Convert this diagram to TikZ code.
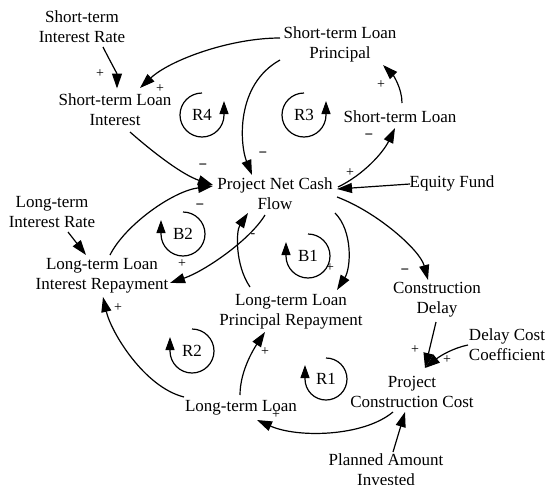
\documentclass[tikz,border=0pt]{standalone}
\usepackage{fontspec}
\setmainfont{Liberation Serif}
\usetikzlibrary{arrows.meta}
\begin{document}
\begin{tikzpicture}[x=1pt,y=-1pt,
  lbl/.style={font=\fontsize{17}{20}\selectfont, align=center, inner sep=0pt},
  pol/.style={font=\fontsize{14}{14}\selectfont, inner sep=0pt},
  neg/.style={font=\bfseries\fontsize{15}{15}\selectfont, inner sep=0pt},
  link/.style={line width=1.2pt, -{Triangle[length=15pt,width=10pt]}},
  loopar/.style={line width=1.2pt, -{Triangle[length=13pt,width=9pt]}},
]
\useasboundingbox (0,0) rectangle (547,485);
\fill[white] (0,0) rectangle (547,485);

% variables
\node[lbl] (stir)  at (82,27)    {Short-term\\Interest Rate};
\node[lbl] (stli)  at (115,109.5){Short-term Loan\\Interest};
\node[lbl] (stlp)  at (340,44.5) {Short-term Loan\\Principal};
\node[lbl] (stl)   at (400,117)  {Short-term Loan};
\node[lbl] (pncf)  at (275,193.5){Project Net Cash\\Flow};
\node[lbl] (ef)    at (452,183)  {Equity Fund};
\node[lbl] (ltir)  at (52,212)   {Long-term\\Interest Rate};
\node[lbl] (ltlir) at (102,276)  {Long-term Loan\\Interest Repayment};
\node[lbl] (ltlpr) at (291,311.5){Long-term Loan\\Principal Repayment};
\node[lbl] (cd)    at (437,300)  {Construction\\Delay};
\node[lbl] (dcc)   at (507,344.5){Delay Cost\\Coefficient};
\node[lbl] (pcc)   at (412,391.5){Project\\Construction Cost};
\node[lbl] (ltl)   at (241,408)  {Long-term Loan};
\node[lbl] (pai)   at (386,470)  {Planned Amount\\Invested};

% links
\draw[link] ([shift={(21,20)}]stir.center) .. controls +(6,12) and +(0,-15) .. ([shift={(2,-21)}]stli.center);
\draw[link] ([shift={(-60,-6.5)}]stlp.center) .. controls +(-50,0) and +(30,-28) .. ([shift={(25,-21.5)}]stli.center);
\draw[link] ([shift={(15,22.5)}]stli.center) .. controls +(25,22) and +(-30,-10) .. ([shift={(-62,-8.5)}]pncf.center);
\draw[link] ([shift={(-60,15.5)}]stlp.center) .. controls +(-45,25) and +(-12,-30) .. ([shift={(-23,-18.5)}]pncf.center);
\draw[link] ([shift={(2,-14)}]stl.center) .. controls +(0,-15) and +(10,10) .. ([shift={(43,20.5)}]stlp.center);
\draw[link] ([shift={(63,-6.5)}]pncf.center) .. controls +(25,-12) and +(-12,25) .. ([shift={(-5,11)}]stl.center);
\draw[link] ([shift={(-42,1)}]ef.center) -- ([shift={(62,-4.5)}]pncf.center);
\draw[link] ([shift={(16,20)}]ltir.center) -- ([shift={(-16,-21)}]ltlir.center);
\draw[link] ([shift={(8,-21)}]ltlir.center) .. controls +(15,-30) and +(-40,5) .. ([shift={(-62,-7.5)}]pncf.center);
\draw[link] ([shift={(-10,21.5)}]pncf.center) .. controls +(-15,25) and +(35,-12) .. ([shift={(68,7)}]ltlir.center);
\draw[link] ([shift={(-41,-24.5)}]ltlpr.center) .. controls +(-15,-22) and +(-12,18) .. ([shift={(-27,19.5)}]pncf.center);
\draw[link] ([shift={(60,19.5)}]pncf.center) .. controls +(18,18) and +(14,-22) .. ([shift={(46,-21.5)}]ltlpr.center);
\draw[link] ([shift={(62,3.5)}]pncf.center) .. controls +(40,15) and +(-8,-30) .. ([shift={(-9,-20)}]cd.center);
\draw[link] ([shift={(-1,22)}]cd.center) -- ([shift={(13,-23.5)}]pcc.center);
\draw[link] ([shift={(-39,0.5)}]dcc.center) .. controls +(-15,3) and +(15,-12) .. ([shift={(13,-23.5)}]pcc.center);
\draw[link] ([shift={(-19,20.5)}]pcc.center) .. controls +(-30,25) and +(40,18) .. ([shift={(16,12)}]ltl.center);
\draw[link] ([shift={(7,-18)}]pai.center) -- ([shift={(-7,20.5)}]pcc.center);
\draw[link] ([shift={(-1,-13)}]ltl.center) .. controls +(0,-25) and +(-10,15) .. ([shift={(-26,20.5)}]ltlpr.center);
\draw[link] ([shift={(-57,-11)}]ltl.center) .. controls +(-40,-10) and +(8,35) .. ([shift={(1,21)}]ltlir.center);

% polarities
\node[pol] (s1)  at (100,74)  {+};
\node[pol] (s2)  at (160,89)  {+};
\node[neg] (s3)  at (203,167) {−};
\node[neg] (s4)  at (263,155) {−};
\node[pol] (s5)  at (381,85)  {+};
\node[neg] (s6)  at (369,137) {−};
\node[pol] (s7)  at (350,173) {+};
\node[neg] (s8)  at (200,207) {−};
\node[pol] (s9)  at (182,264) {+};
\node[pol] (s10) at (253,236) {-};
\node[pol] (s11) at (330,268) {+};
\node[neg] (s12) at (405,272) {−};
\node[pol] (s13) at (415,350) {+};
\node[pol] (s14) at (447,360) {+};
\node[pol] (s15) at (276,415) {+};
\node[pol] (s16) at (265,352) {+};
\node[pol] (s17) at (118,308) {+};

% loop markers
\node[lbl] (r4) at (202,115) {R4};
\node[lbl] (r3) at (304,115) {R3};
\node[lbl] (b2) at (183,234) {B2};
\node[lbl] (b1) at (308,256) {B1};
\node[lbl] (r2) at (192,351) {R2};
\node[lbl] (r1) at (326,379) {R1};
\draw[loopar] ([shift={(0,-22)}]r4.center) arc[start angle=90,end angle=360,radius=22pt] -- ++(0,-14);
\draw[loopar] ([shift={(0,-22)}]r3.center) arc[start angle=90,end angle=360,radius=22pt] -- ++(0,-14);
\draw[loopar] ([shift={(0,-22)}]b2.center) arc[start angle=90,end angle=-180,radius=22pt] -- ++(0,-14);
\draw[loopar] ([shift={(0,-22)}]b1.center) arc[start angle=90,end angle=-180,radius=22pt] -- ++(0,-14);
\draw[loopar] ([shift={(0,-22)}]r2.center) arc[start angle=90,end angle=-180,radius=22pt] -- ++(0,-14);
\draw[loopar] ([shift={(0,-21)}]r1.center) arc[start angle=90,end angle=-180,radius=21pt] -- ++(0,-14);
\end{tikzpicture}
\end{document}
